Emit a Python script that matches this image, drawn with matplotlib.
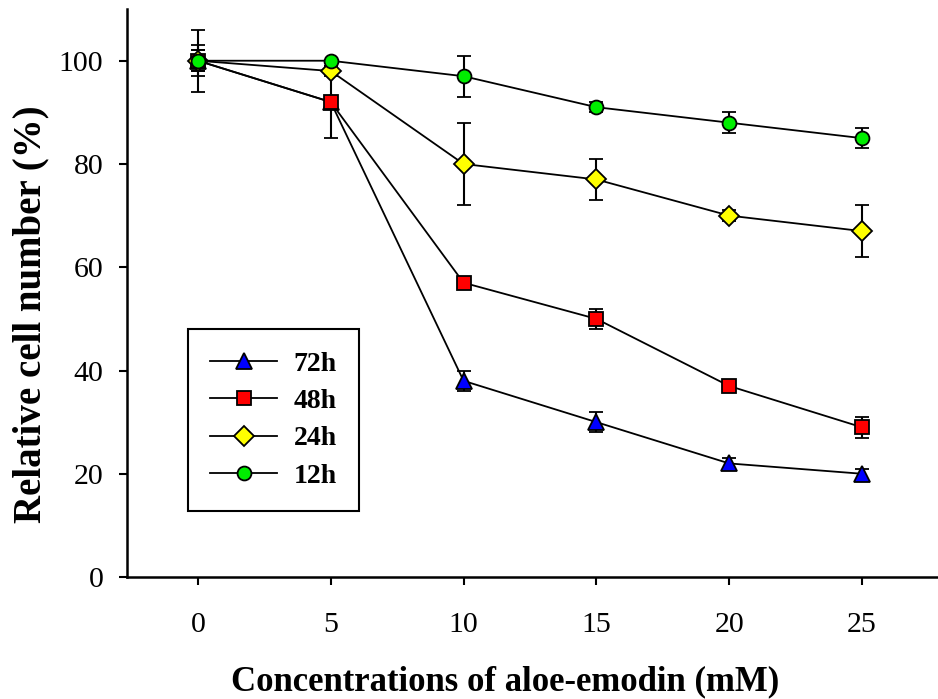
import numpy as np
import matplotlib.pyplot as plt

plt.rcParams['font.family'] = ['Liberation Serif', 'DejaVu Serif']

# aloe-emodin concentration and relative cell number (%) per exposure time
conc = [0, 5, 10, 15, 20, 25]

h72 = [100, 92, 38, 30, 22, 20]
h72_err = [6, 0, 2, 2, 1, 1]
h48 = [100, 92, 57, 50, 37, 29]
h48_err = [3, 7, 1, 2, 1, 2]
h24 = [100, 98, 80, 77, 70, 67]
h24_err = [2, 1, 8, 4, 1, 5]
h12 = [100, 100, 97, 91, 88, 85]
h12_err = [2, 0, 4, 1, 2, 2]

labels = ['72h', '48h', '24h', '12h']

fig = plt.figure(figsize=(9.38, 6.99), dpi=100)
ax = fig.add_axes([0.1354, 0.1745, 0.8646, 0.8125])

series = [
    (h72, h72_err, '^', 'blue', 11),
    (h48, h48_err, 's', 'red', 9.5),
    (h24, h24_err, 'D', 'yellow', 10.5),
    (h12, h12_err, 'o', '#00ee00', 10),
]

for (vals, err, mk, col, ms), lab in zip(series, labels):
    ax.errorbar(conc, vals, yerr=err, color='black', lw=1.3,
                elinewidth=1.5, capsize=5, capthick=1.5,
                marker=mk, markersize=ms, markerfacecolor=col,
                markeredgecolor='black', markeredgewidth=1.3, label=lab)

ax.set_xlim(-2.67, 27.86)
ax.set_ylim(0, 110)
ax.set_xticks(conc)
ax.set_yticks([0, 20, 40, 60, 80, 100])

for s in ['top', 'right']:
    ax.spines[s].set_visible(False)
for s in ['left', 'bottom']:
    ax.spines[s].set_linewidth(1.8)

ax.tick_params(direction='out', length=6, width=1.5, labelsize=21.5)
ax.tick_params(axis='y', pad=11)
ax.tick_params(axis='x', pad=19)

fig.text(0.538, 0.012, 'Concentrations of aloe-emodin (mM)', ha='center',
         fontsize=25, fontweight='bold')
fig.text(0.033, 0.551, 'Relative cell number (%)', va='center', ha='center',
         rotation=90, fontsize=28, fontweight='bold')

handles, labs = ax.get_legend_handles_labels()
handles = [h[0] for h in handles]
leg = ax.legend(handles, labs, loc='upper left',
                bbox_to_anchor=(188 / 938, 1 - 329 / 699),
                bbox_transform=fig.transFigure,
                prop={'size': 20, 'weight': 'bold'},
                handlelength=2.4, labelspacing=0.43, borderpad=0.8,
                handletextpad=0.6, fancybox=False, framealpha=1,
                edgecolor='black', borderaxespad=0)
leg.get_frame().set_linewidth(1.5)

fig.savefig('out.png', dpi=100)
